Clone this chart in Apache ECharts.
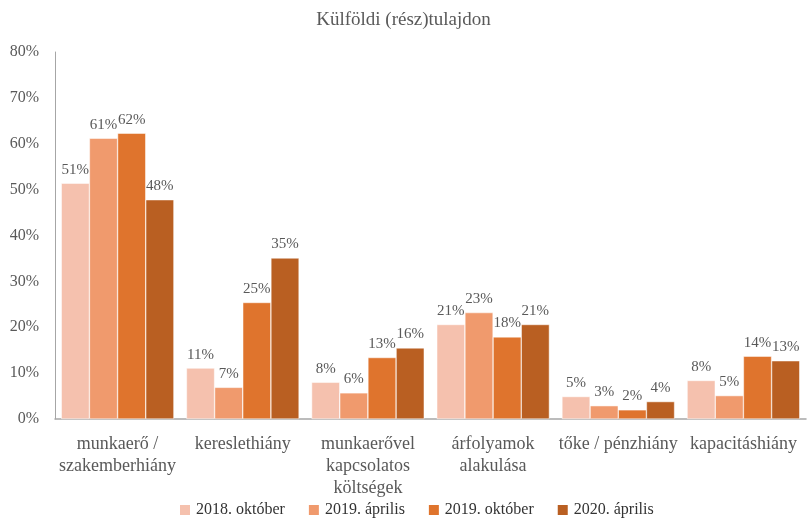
<!DOCTYPE html>
<html>
<head>
<meta charset="utf-8">
<script src="https://cdn.jsdelivr.net/npm/echarts@6/dist/echarts.min.js"></script>
<style>
  html, body { margin: 0; padding: 0; background: #fff; }
  #chart { width: 807px; height: 523px; }
</style>
</head>
<body>
<div id="chart"></div>
<script>
// adatok (%)
var categories = ['munkaerő /\nszakemberhiány', 'kereslethiány', 'munkaerővel\nkapcsolatos\nköltségek', 'árfolyamok\nalakulása', 'tőke / pénzhiány', 'kapacitáshiány'];
var seriesNames = ['2018. október', '2019. április', '2019. október', '2020. április'];
var okt2018 = [51.4, 11.1, 8.0, 20.6, 4.9, 8.4];
var apr2019 = [61.2, 6.9, 5.7, 23.2, 2.9, 5.1];
var okt2019 = [62.3, 25.4, 13.4, 17.9, 2.0, 13.7];
var apr2020 = [47.8, 35.1, 15.5, 20.6, 3.8, 12.7];
var colors = ['#F5C1AE', '#F09A6D', '#DF742D', '#B95F22'];

var font = '"Liberation Serif", "DejaVu Serif", serif';
var txt = '#595959';

var chart = echarts.init(document.getElementById('chart'));
var values = [okt2018, apr2019, okt2019, apr2020];
var series = [];
for (var i = 0; i < values.length; i++) {
  series.push({
    name: seriesNames[i],
    type: 'bar',
    data: values[i],
    barGap: '0%',
    barCategoryGap: '10%',
    itemStyle: { color: colors[i], borderColor: '#fff', borderWidth: 0.5 },
    label: {
      show: true,
      position: 'top',
      distance: 6,
      color: txt,
      fontFamily: font,
      fontSize: 15,
      formatter: function (p) { return Math.round(p.value) + '%'; }
    }
  });
}

var option = {
  animation: false,
  textStyle: { fontFamily: font },
  title: {
    text: 'Külföldi (rész)tulajdon',
    left: 'center',
    top: 6,
    textStyle: { fontFamily: font, fontSize: 19, fontWeight: 'normal', color: txt }
  },
  legend: {
    data: seriesNames,
    bottom: 0,
    left: 173,
    itemWidth: 12,
    itemHeight: 12,
    itemGap: 22,
    icon: 'rect',
    textStyle: { fontFamily: font, fontSize: 16, color: '#333333' }
  },
  grid: { left: 55, right: 1, top: 52, bottom: 104 },
  xAxis: {
    type: 'category',
    data: categories,
    axisLine: { lineStyle: { color: '#A6A6A6', width: 1.5 } },
    axisTick: { show: false },
    axisLabel: {
      interval: 0,
      margin: 14,
      color: txt,
      fontFamily: font,
      fontSize: 18,
      lineHeight: 22
    }
  },
  yAxis: {
    type: 'value',
    min: 0,
    max: 80,
    interval: 10,
    splitLine: { show: false },
    axisLine: { show: true, lineStyle: { color: '#A6A6A6', width: 1 } },
    axisTick: { show: false },
    axisLabel: {
      margin: 16,
      color: txt,
      fontFamily: font,
      fontSize: 16,
      formatter: '{value}%'
    }
  },
  series: series
};
chart.setOption(option);
</script>
</body>
</html>
